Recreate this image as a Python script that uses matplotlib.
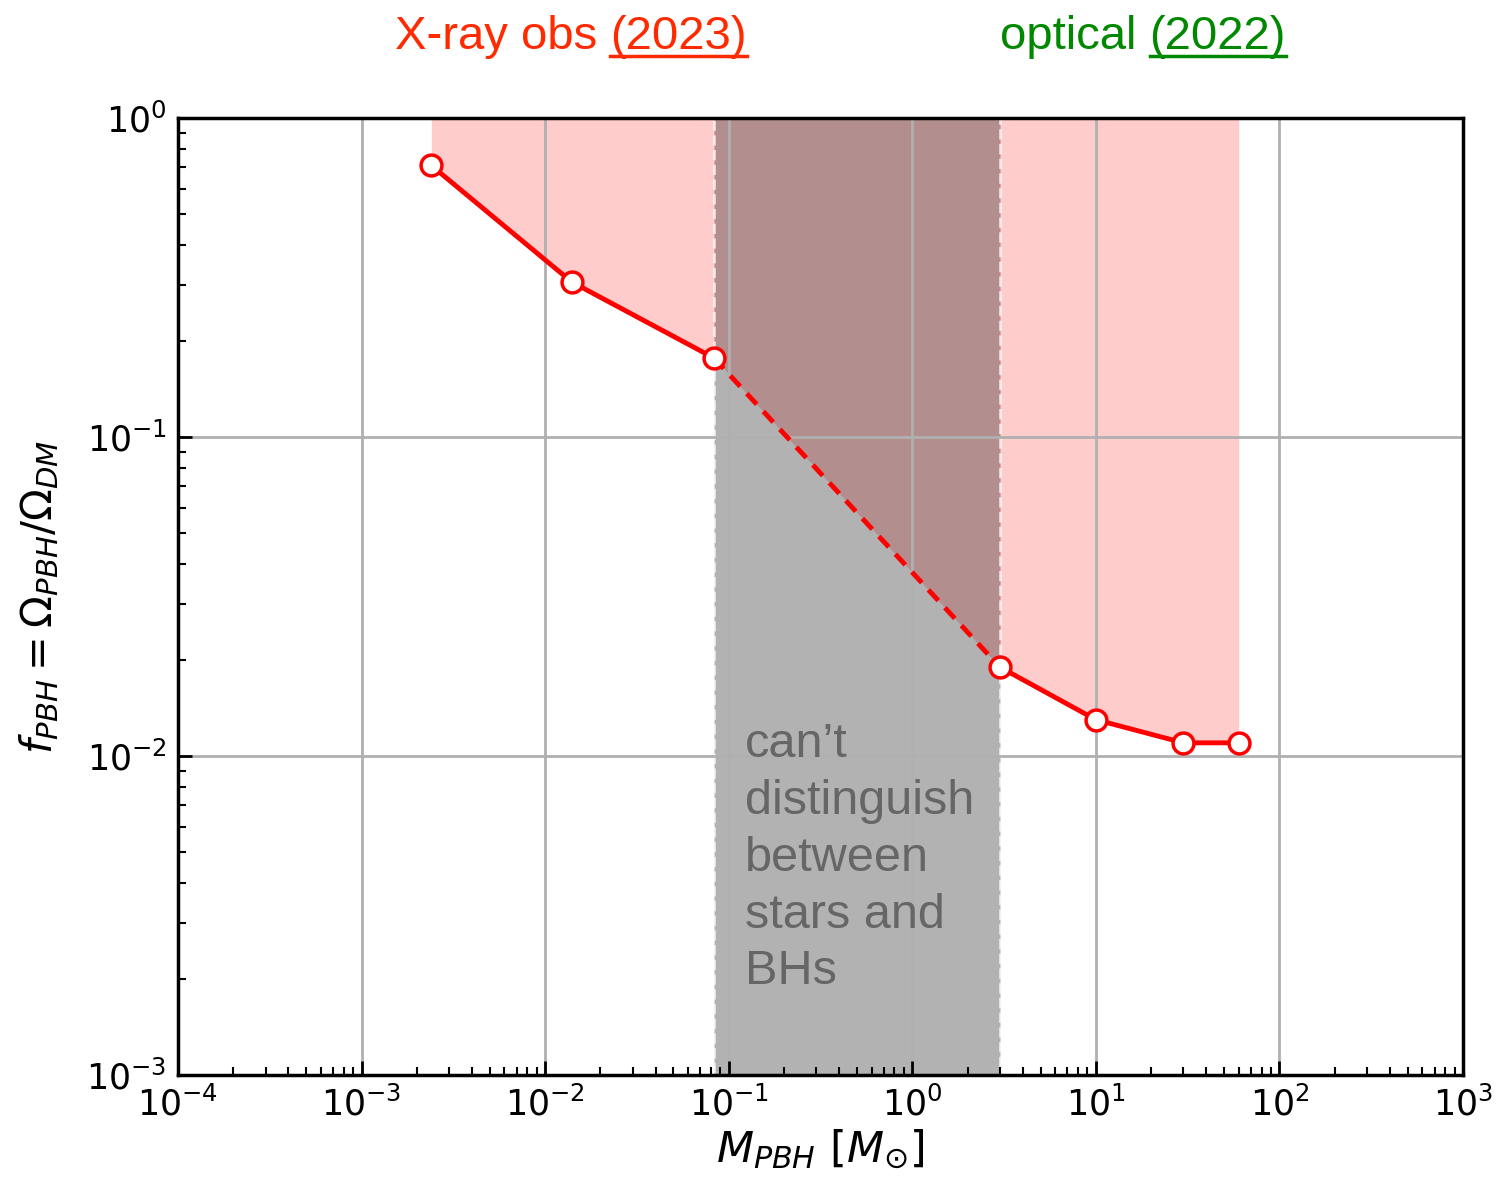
import numpy as np
import matplotlib.pyplot as plt
from matplotlib.lines import Line2D

# PBH abundance bound from X-ray observations
masa = np.array([2.4e-3, 1.4e-2, 8.3e-2, 3.0, 10.0, 30.0, 60.0])
fpbh = np.array([0.71, 0.306, 0.177, 0.019, 0.013, 0.011, 0.011])

# mass window where stars and BHs can't be told apart
zona_gris = [8.3e-2, 3.0]

rojo = '#ff0000'
rojo_titulo = '#ff2a00'
verde = '#008800'

fig = plt.figure(figsize=(14.99, 11.85), dpi=100)
ax = fig.add_axes([0.1187, 0.0928, 0.976 - 0.1187, 0.9004 - 0.0928])
ax.set_xscale('log')
ax.set_yscale('log')
ax.set_xlim(1e-4, 1e3)
ax.set_ylim(1e-3, 1e0)
ax.grid(True, which='major', color='#b0b0b0', lw=2)

# region excluded by the bound (below the grid)
ax.fill_between(masa, fpbh, 1.0, color=rojo, alpha=0.2, lw=0, zorder=1)
ax.axvspan(zona_gris[0], zona_gris[1], facecolor=(0, 0, 0, 0.3),
           edgecolor=(1, 1, 1, 0.7), ls='--', lw=2, zorder=1.2)

# solid outside the grey window, dashed inside it
dentro = (masa >= zona_gris[0]) & (masa <= zona_gris[1])
i0 = np.argmax(dentro)
i1 = len(masa) - np.argmax(dentro[::-1]) - 1
ax.plot(masa[:i0 + 1], fpbh[:i0 + 1], color=rojo, lw=3.5, zorder=3)
ax.plot(masa[i0:i1 + 1], fpbh[i0:i1 + 1], color=rojo, lw=3.5, ls=(0, (3, 2)), zorder=3)
ax.plot(masa[i1:], fpbh[i1:], color=rojo, lw=3.5, zorder=3)
ax.plot(masa, fpbh, ls='none', marker='o', ms=15, mfc='white', mec=rojo, mew=2.5, zorder=4)

ax.text(0.122, 0.0128, "can\u2019t\ndistinguish\nbetween\nstars and\nBHs",
        family='Liberation Sans', fontsize=35, color='#666666',
        ha='left', va='top', linespacing=1.34, zorder=5)

ax.tick_params(which='both', direction='in', top=False, right=False,
               labelsize=25, width=2, pad=8)
ax.tick_params(which='major', length=10)
ax.tick_params(which='minor', length=6, width=1.5)
for s in ax.spines.values():
    s.set_linewidth(2.5)

ax.set_xlabel(r'$M_{PBH}\ [M_{\odot}]$', fontsize=31, labelpad=4)
ax.set_ylabel(r'$f_{PBH} = \Omega_{PBH}/\Omega_{DM}$', fontsize=30, labelpad=18)

# titles on top, the year part underlined
def titulo(x, y, texto, anio, color):
    t1 = fig.text(x, y, texto + ' ', family='Liberation Sans', fontsize=34,
                  color=color, ha='left', va='center')
    fig.canvas.draw()
    bb = t1.get_window_extent()
    x2 = bb.x1 / fig.bbox.width
    t2 = fig.text(x2, y, anio, family='Liberation Sans', fontsize=34,
                  color=color, ha='left', va='center')
    fig.canvas.draw()
    bb2 = t2.get_window_extent()
    yl = (bb2.y0 + 3) / fig.bbox.height
    fig.add_artist(Line2D([bb2.x0 / fig.bbox.width, bb2.x1 / fig.bbox.width], [yl, yl],
                          color=color, lw=2.5))

titulo(395 / 1499, 1 - 37 / 1185, 'X-ray obs', '(2023)', rojo_titulo)
titulo(1000 / 1499, 1 - 37 / 1185, 'optical', '(2022)', verde)

plt.savefig('out.png', dpi=100)
